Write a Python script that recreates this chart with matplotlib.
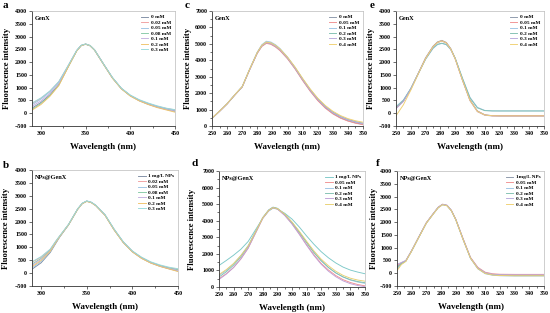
import matplotlib
matplotlib.use("Agg")
import matplotlib.pyplot as plt
from matplotlib.ticker import MultipleLocator

plt.rcParams['font.family'] = ['Liberation Serif', 'DejaVu Serif']
plt.rcParams['font.weight'] = 'bold'

# ---- panel a: GenX, 290-450 nm ----
a_x = [290, 300, 310, 320, 330, 340, 345, 350, 355, 360, 370, 380, 390, 400, 410, 420, 430, 440, 450]
a_labels = ['0 mM', '0.02 mM', '0.05 mM', '0.08 mM', '0.1 mM', '0.2 mM', '0.3 mM']
a_vals = [
    [200, 420, 720, 1120, 1790, 2440, 2650, 2710, 2650, 2480, 1930, 1390, 970, 690, 500, 360, 250, 160, 90],
    [380, 580, 860, 1230, 1830, 2450, 2650, 2700, 2640, 2470, 1920, 1380, 960, 690, 510, 380, 270, 190, 130],
    [330, 550, 840, 1210, 1820, 2450, 2650, 2700, 2640, 2470, 1920, 1390, 970, 700, 510, 380, 270, 180, 120],
    [150, 380, 690, 1100, 1780, 2440, 2650, 2700, 2640, 2470, 1920, 1380, 960, 680, 490, 350, 240, 150, 70],
    [270, 480, 780, 1170, 1800, 2450, 2650, 2700, 2640, 2470, 1920, 1380, 960, 680, 490, 350, 240, 150, 80],
    [120, 340, 660, 1080, 1770, 2430, 2640, 2700, 2640, 2470, 1910, 1370, 950, 670, 480, 340, 220, 130, 40],
    [400, 600, 870, 1240, 1840, 2460, 2660, 2710, 2650, 2480, 1930, 1400, 980, 710, 530, 400, 290, 200, 140],
]

# ---- panel b: NPs@GenX, 290-450 nm ----
b_x = [290, 300, 310, 316, 320, 330, 340, 345, 350, 355, 360, 370, 380, 390, 400, 410, 420, 430, 440, 450]
b_labels = ['1 mg/L NPs', '0.02 mM', '0.05 mM', '0.08 mM', '0.1 mM', '0.2 mM', '0.3 mM']
b_vals = [
    [150, 400, 800, 1150, 1380, 1870, 2480, 2700, 2790, 2740, 2620, 2250, 1680, 1190, 830, 580, 400, 270, 170, 80],
    [420, 620, 920, 1230, 1420, 1880, 2480, 2700, 2790, 2740, 2620, 2260, 1700, 1210, 850, 600, 420, 300, 210, 150],
    [200, 450, 830, 1170, 1390, 1870, 2480, 2700, 2800, 2750, 2630, 2260, 1690, 1200, 840, 590, 410, 280, 180, 100],
    [350, 570, 890, 1210, 1410, 1880, 2480, 2700, 2790, 2740, 2620, 2250, 1690, 1200, 840, 600, 420, 290, 200, 130],
    [300, 530, 870, 1200, 1400, 1880, 2480, 2700, 2790, 2740, 2620, 2250, 1680, 1190, 830, 580, 400, 270, 180, 100],
    [250, 490, 850, 1190, 1400, 1870, 2470, 2690, 2780, 2730, 2610, 2240, 1670, 1180, 820, 570, 390, 260, 160, 60],
    [440, 640, 930, 1240, 1430, 1890, 2490, 2710, 2800, 2750, 2630, 2270, 1710, 1220, 860, 620, 440, 320, 230, 170],
]

# ---- panel c: GenX, 250-350 nm ----
c_x = [250, 255, 260, 265, 270, 275, 280, 283, 286, 289, 292, 295, 300, 305, 310, 315, 320, 325, 330, 335, 340, 345, 350]
c_labels = ['0 mM', '0.05 mM', '0.1 mM', '0.2 mM', '0.3 mM', '0.4 mM']
c_vals = [
    [470, 900, 1350, 1880, 2380, 3450, 4450, 4870, 5060, 5000, 4840, 4620, 4120, 3500, 2800, 2150, 1580, 1120, 760, 500, 320, 190, 100],
    [460, 890, 1340, 1870, 2370, 3430, 4420, 4840, 5030, 4970, 4810, 4590, 4090, 3470, 2770, 2120, 1550, 1090, 740, 480, 300, 170, 80],
    [480, 910, 1360, 1890, 2400, 3480, 4500, 4950, 5160, 5110, 4950, 4720, 4200, 3570, 2880, 2230, 1670, 1210, 850, 590, 400, 260, 160],
    [470, 900, 1350, 1880, 2390, 3460, 4470, 4900, 5100, 5050, 4890, 4670, 4170, 3550, 2860, 2210, 1650, 1190, 830, 570, 390, 260, 170],
    [470, 900, 1350, 1880, 2380, 3450, 4460, 4880, 5080, 5020, 4860, 4640, 4140, 3520, 2830, 2180, 1620, 1170, 810, 560, 380, 250, 150],
    [480, 910, 1360, 1890, 2400, 3470, 4480, 4910, 5110, 5060, 4910, 4690, 4190, 3590, 2900, 2260, 1700, 1250, 900, 640, 450, 320, 230],
]

# ---- panel d: NPs@GenX, 250-350 nm ----
d_x = [250, 255, 260, 265, 270, 275, 280, 284, 287, 290, 295, 300, 305, 310, 315, 320, 325, 330, 335, 340, 345, 350]
d_labels = ['1 mg/L NPs', '0.05 mM', '0.1 mM', '0.2 mM', '0.3 mM', '0.4 mM']
d_vals = [
    [1300, 1600, 1920, 2280, 2750, 3450, 4150, 4580, 4760, 4700, 4450, 4100, 3620, 3080, 2580, 2130, 1760, 1450, 1200, 1020, 900, 800],
    [500, 800, 1180, 1700, 2350, 3250, 4150, 4620, 4800, 4720, 4340, 3820, 3200, 2550, 1950, 1420, 1020, 690, 440, 270, 150, 70],
    [700, 1000, 1400, 1900, 2500, 3350, 4200, 4650, 4820, 4750, 4400, 3900, 3320, 2700, 2100, 1600, 1180, 850, 600, 420, 300, 220],
    [600, 920, 1320, 1820, 2450, 3300, 4180, 4640, 4810, 4740, 4380, 3880, 3300, 2680, 2080, 1580, 1170, 850, 610, 440, 330, 260],
    [450, 780, 1180, 1700, 2350, 3250, 4150, 4600, 4780, 4700, 4320, 3800, 3180, 2520, 1900, 1370, 950, 620, 370, 200, 90, 20],
    [750, 1050, 1420, 1900, 2480, 3320, 4180, 4620, 4790, 4730, 4400, 3920, 3360, 2760, 2180, 1680, 1280, 950, 700, 530, 420, 350],
]

# ---- panel e: GenX, 250-350 nm ----
e_x = [250, 255, 260, 265, 270, 275, 278, 281, 284, 287, 290, 295, 300, 305, 310, 315, 320, 330, 340, 350]
e_labels = ['0 mM', '0.05 mM', '0.1 mM', '0.2 mM', '0.3 mM', '0.4 mM']
e_vals = [
    [200, 480, 960, 1560, 2170, 2620, 2790, 2850, 2770, 2530, 2150, 1300, 520, 90, -60, -95, -100, -100, -100, -100],
    [190, 470, 950, 1550, 2150, 2600, 2770, 2830, 2750, 2510, 2130, 1280, 500, 70, -70, -100, -105, -105, -105, -105],
    [260, 520, 970, 1540, 2110, 2530, 2680, 2730, 2680, 2490, 2150, 1360, 620, 230, 110, 90, 90, 90, 90, 90],
    [240, 500, 960, 1540, 2120, 2550, 2700, 2740, 2690, 2500, 2150, 1350, 600, 210, 100, 90, 88, 88, 88, 88],
    [180, 460, 940, 1540, 2140, 2590, 2760, 2820, 2740, 2500, 2120, 1270, 490, 60, -80, -110, -115, -115, -115, -115],
    [-100, 330, 900, 1530, 2140, 2600, 2770, 2830, 2750, 2510, 2130, 1280, 500, 70, -70, -100, -105, -105, -105, -105],
]

# ---- panel f: NPs@GenX, 250-350 nm ----
f_x = [250, 253, 256, 260, 265, 270, 275, 278, 281, 284, 287, 290, 295, 300, 305, 310, 315, 320, 330, 340, 350]
f_labels = ['1mg/L NPs', '0.05 mM', '0.1 mM', '0.2 mM', '0.3 mM', '0.4 mM']
f_vals = [
    [250, 390, 480, 880, 1430, 1970, 2350, 2570, 2690, 2650, 2450, 2100, 1330, 600, 200, 10, -50, -70, -80, -80, -80],
    [300, 410, 490, 890, 1440, 1980, 2360, 2580, 2700, 2660, 2460, 2110, 1350, 620, 230, 40, -20, -40, -45, -45, -45],
    [150, 360, 470, 870, 1420, 1960, 2340, 2560, 2680, 2640, 2440, 2090, 1310, 580, 170, -20, -80, -100, -110, -110, -110],
    [200, 380, 480, 880, 1430, 1970, 2350, 2570, 2690, 2650, 2450, 2100, 1320, 590, 190, 0, -60, -80, -90, -90, -90],
    [350, 420, 500, 890, 1440, 1980, 2360, 2580, 2700, 2660, 2460, 2100, 1330, 600, 210, 20, -40, -60, -65, -65, -65],
    [100, 340, 460, 870, 1420, 1960, 2340, 2560, 2680, 2640, 2440, 2090, 1310, 590, 180, -10, -70, -90, -100, -100, -100],
]

col7 = ['#7d8ca3', '#f0a0a0', '#9cc4e4', '#86c9a6', '#c4b0e0', '#f0c36a', '#98dada']
col6 = ['#8a96a8', '#f09090', '#9cc4e4', '#80c0b0', '#b8a8dc', '#f0d070']
col6d = ['#7cc8c8', '#f09090', '#9cc4e4', '#80c0b0', '#c0a0d8', '#e8d070']

W, H = 550, 313


def box(l, r, t, b):
    return [l / W, 1 - b / H, (r - l) / W, (b - t) / H]


def panel(fig, rect, letter, letter_xy, x, vals, labels, colors, tag,
          xlim, ylim, xmaj, xmin, ymaj, ymin, ylab_x):
    ax = fig.add_axes(rect)
    for ys, lab, c in zip(vals, labels, colors):
        ax.plot(x, ys, color=c, lw=0.65, label=lab)
    ax.set_xlim(*xlim)
    ax.set_ylim(*ylim)
    ax.xaxis.set_major_locator(MultipleLocator(xmaj))
    ax.xaxis.set_minor_locator(MultipleLocator(xmin))
    ax.yaxis.set_major_locator(MultipleLocator(ymaj))
    if ymin:
        ax.yaxis.set_minor_locator(MultipleLocator(ymin))
    ax.tick_params(which='both', direction='out', labelsize=4.3, pad=1.5,
                   top=False, right=False, width=0.5, colors='#333333',
                   labelcolor='black')
    ax.tick_params(which='major', length=2)
    ax.tick_params(which='minor', length=1.2)
    for lab in ax.get_xticklabels() + ax.get_yticklabels():
        lab.set_fontweight('bold')
    for s in ['left', 'bottom']:
        ax.spines[s].set_linewidth(0.6)
        ax.spines[s].set_color('#333333')
    for s in ['top', 'right']:
        ax.spines[s].set_linewidth(0.5)
        ax.spines[s].set_color('#bbbbbb')
    ax.set_xlabel('Wavelength (nm)', fontsize=6.5, fontweight='bold')
    ax.set_ylabel('Fluorescence intensity', fontsize=6.2, fontweight='bold')
    ax.xaxis.set_label_coords(0.5, -0.15)
    ax.yaxis.set_label_coords(ylab_x, 0.5)
    ax.text(0.02, 0.96, tag, transform=ax.transAxes, fontsize=4.5,
            fontweight='bold', va='top', ha='left')
    ax.legend(loc='upper right', bbox_to_anchor=(1.0, 1.0), frameon=False,
              handlelength=1.4, handletextpad=0.5,
              labelspacing=0.15, borderaxespad=0.3,
              prop={'weight': 'bold', 'size': 3.8})
    fig.text(letter_xy[0] / W, 1 - letter_xy[1] / H, letter, fontsize=8,
             fontweight='bold', ha='left', va='center')
    return ax


fig = plt.figure(figsize=(5.5, 3.13), dpi=100)

panel(fig, box(32, 175, 11, 126), 'a', (3, 6), a_x, a_vals, a_labels, col7, 'GenX',
      (290, 450), (-500, 4000), 50, 25, 500, None, -0.147)
panel(fig, box(212, 363, 11, 126), 'c', (185, 6), c_x, c_vals, c_labels, col6, 'GenX',
      (250, 350), (0, 7000), 10, 5, 1000, 500, -0.135)
panel(fig, box(396, 544, 11, 126), 'e', (370, 6), e_x, e_vals, e_labels, col6, 'GenX',
      (250, 350), (-500, 4000), 10, 5, 500, None, -0.14)
panel(fig, box(32, 178, 170, 286), 'b', (3, 165), b_x, b_vals, b_labels, col7, 'NPs@GenX',
      (290, 450), (-500, 4000), 50, 25, 500, None, -0.15)
panel(fig, box(219, 365, 171, 287), 'd', (191, 164), d_x, d_vals, d_labels, col6d, 'NPs@GenX',
      (250, 350), (0, 7000), 10, 5, 1000, 500, -0.155)
panel(fig, box(397, 544, 171, 286), 'f', (376, 164), f_x, f_vals, f_labels, col6, 'NPs@GenX',
      (250, 350), (-500, 4000), 10, 5, 500, None, -0.13)

fig.savefig('out.png', dpi=100)
